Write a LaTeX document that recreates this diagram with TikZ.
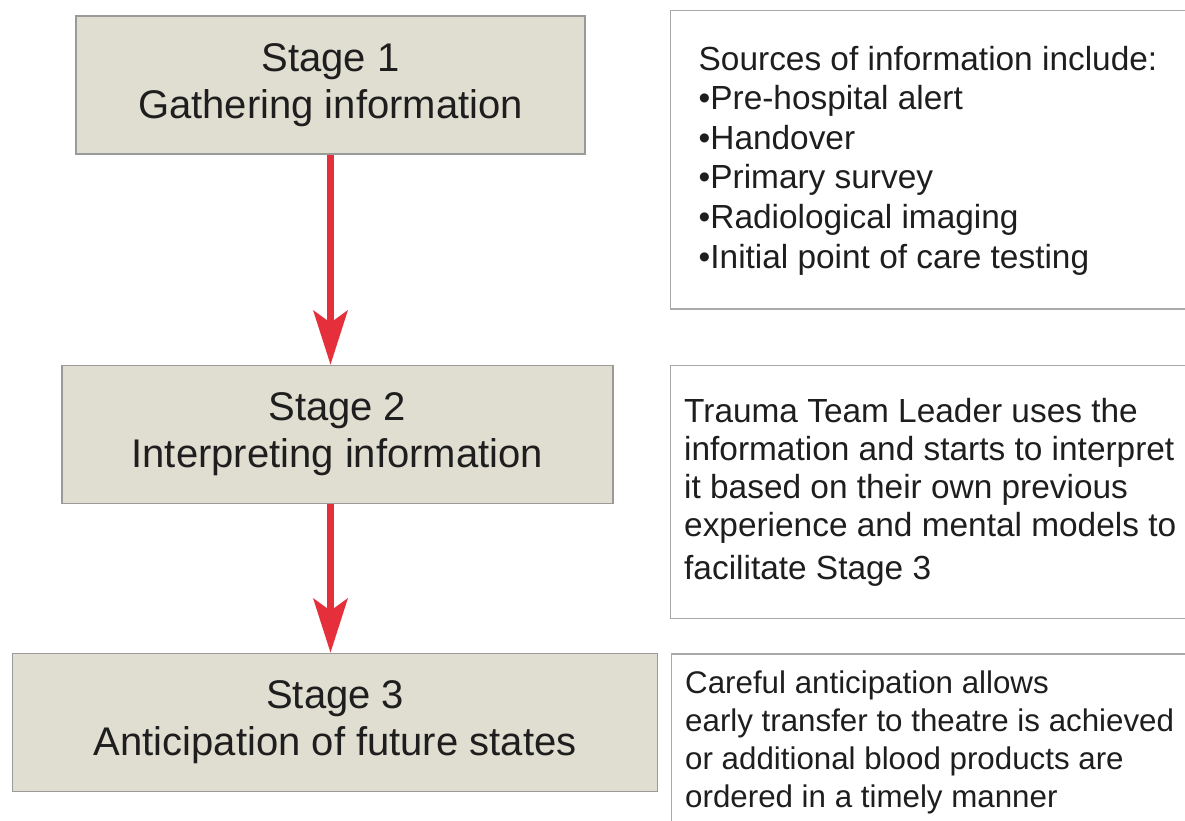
\documentclass[tikz,border=0pt]{standalone}
\usepackage{fontspec}
\setmainfont{Liberation Sans}
\usetikzlibrary{arrows.meta}
\definecolor{stagefill}{HTML}{E0DED0}
\definecolor{stageline}{HTML}{9A9A98}
\definecolor{infoline}{HTML}{A9A9A9}
\definecolor{arrowred}{HTML}{E5303C}
\definecolor{txt}{HTML}{1E1E1E}
\begin{document}
\begin{tikzpicture}[x=1pt,y=-1pt,
  stagebox/.style={draw=stageline, line width=1.5pt, fill=stagefill, inner sep=0pt,
    align=center, font=\fontsize{40}{47}\selectfont, text=txt},
  infobox/.style={draw=infoline, line width=1.5pt, fill=white, inner sep=0pt, anchor=north west},
  infotext/.style={anchor=north west, inner sep=0pt, align=left, text=txt},
  flow/.style={draw=arrowred, line width=7pt, -{Stealth[length=54pt,width=34pt,inset=12pt]}}
]
\useasboundingbox (0,0) rectangle (1185,821);
% stage boxes
\node[stagebox, minimum width=509pt, minimum height=138pt] (s1) at (330.5,85) {Stage 1\\Gathering information};
\node[stagebox, minimum width=551pt, minimum height=138pt] (s2) at (337.3,434.5) {Stage 2\\Interpreting information};
\node[stagebox, minimum width=645pt, minimum height=138pt] (s3) at (335.2,722.5) {Stage 3\\Anticipation of future states};
% info boxes
\node[infobox, minimum width=530pt, minimum height=298pt] (i1) at (669.5,10) {};
\node[infobox, minimum width=530pt, minimum height=253pt] (i2) at (669.5,364.5) {};
\node[infobox, minimum width=530pt, minimum height=200pt] (i3) at (670.5,653) {};
% info texts
\node[infotext, font=\fontsize{33.4}{39.6}\selectfont] (t1) at (698.5,45.7)
  {Sources of information include:\\•Pre-hospital alert\\•Handover\\•Primary survey\\•Radiological imaging\\•Initial point of care testing};
\node[infotext, font=\fontsize{33.4}{38.2}\selectfont] (t2) at (684,397.8)
  {Trauma Team Leader uses the\\information and starts to interpret\\it based on their own previous\\experience and mental models to\\[4pt]facilitate Stage 3};
\node[infotext, font=\fontsize{31.3}{38}\selectfont] (t3) at (685,670.2)
  {Careful anticipation allows\\early transfer to theatre is achieved\\or additional blood products are\\ordered in a timely manner};
% arrows
\draw[flow] (s1.south) -- (s2.north -| s1.south);
\draw[flow] (s2.south -| s1.south) -- (s3.north -| s1.south);
\end{tikzpicture}
\end{document}
